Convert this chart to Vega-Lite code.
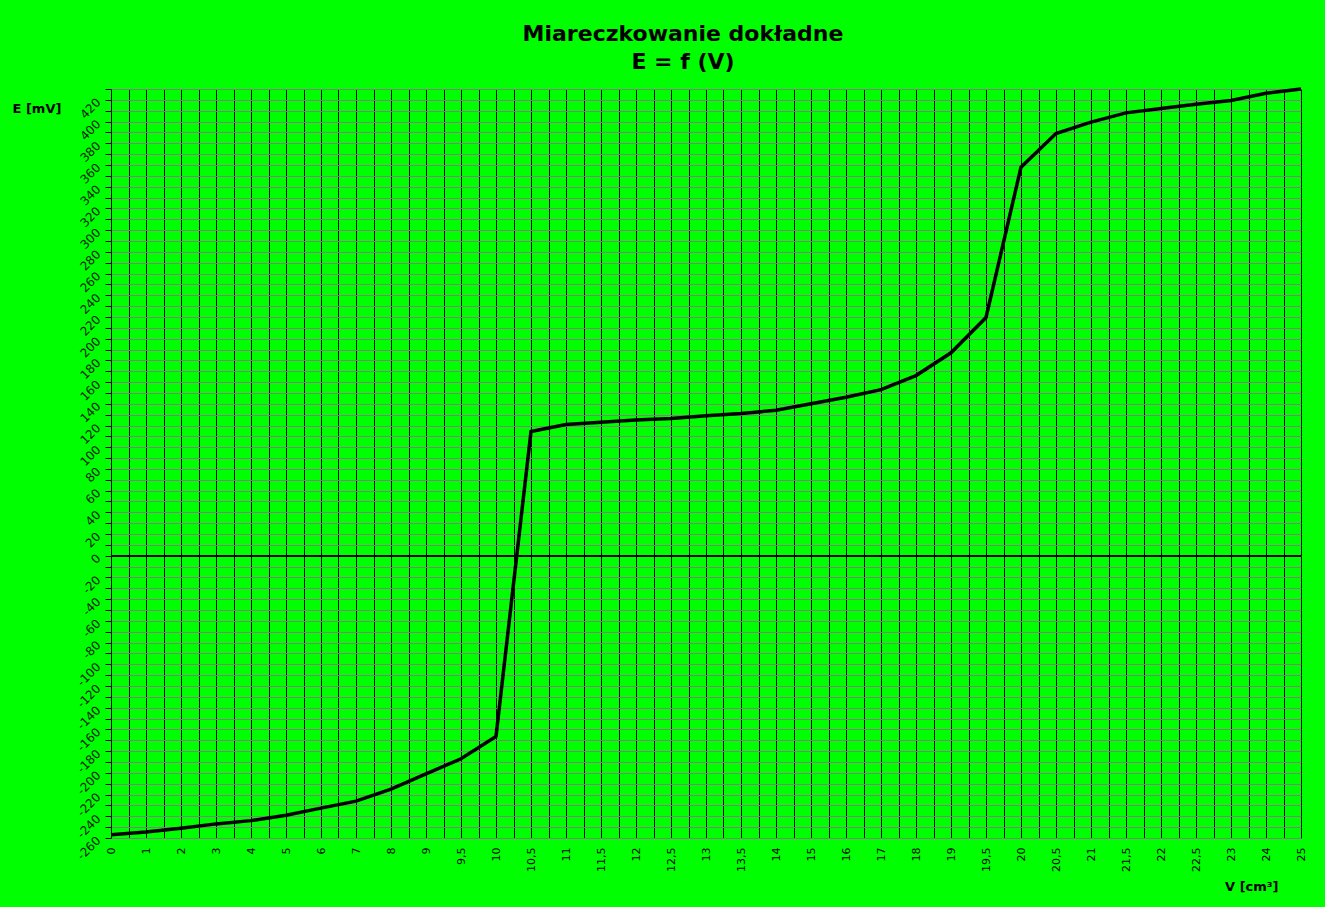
{
  "$schema": "https://vega.github.io/schema/vega-lite/v6.json",
  "autosize": {"type": "none"},
  "width": 1190,
  "height": 749,
  "padding": {"left": 111, "top": 89, "right": 24, "bottom": 69},
  "background": "#00FF00",
  "title": {
    "text": ["Miareczkowanie dokładne", "E = f (V)"],
    "font": "DejaVu Sans",
    "fontSize": 22,
    "fontWeight": "bold",
    "color": "#000000",
    "lineHeight": 28,
    "anchor": "middle",
    "frame": "group",
    "baseline": "bottom",
    "offset": 14,
    "dy": 28,
    "dx": -23
  },
  "config": {
    "view": {"stroke": "#808080", "strokeWidth": 1},
    "axis": {"labelFont": "DejaVu Sans", "titleFont": "DejaVu Sans"},
    "axisY": {
      "grid": true,
      "gridColor": "#808080",
      "gridWidth": 1,
      "gridOpacity": 1,
      "ticks": true,
      "tickSize": 6,
      "tickColor": "#000000",
      "tickWidth": 1,
      "domain": false,
      "labelAngle": -45,
      "labelAlign": "right",
      "labelBaseline": "middle",
      "labelPadding": 7,
      "labelFontSize": 12,
      "labelColor": "#0a1a0a",
      "labelOverlap": false,
      "labelSeparation": 0,
      "titleFontSize": 13,
      "titleFontWeight": "bold",
      "titleColor": "#000000",
      "titleAngle": 0,
      "titleAlign": "left",
      "titleBaseline": "alphabetic",
      "titleAnchor": null,
      "titleX": -99,
      "titleY": 23
    }
  },
  "data": {
    "values": [
      {"V": "0", "E": -257},
      {"V": "1", "E": -254.5},
      {"V": "2", "E": -251},
      {"V": "3", "E": -247},
      {"V": "4", "E": -244},
      {"V": "5", "E": -239},
      {"V": "6", "E": -232.5},
      {"V": "7", "E": -226},
      {"V": "8", "E": -215},
      {"V": "9", "E": -201},
      {"V": "9,5", "E": -187},
      {"V": "10", "E": -166.5},
      {"V": "10,5", "E": 114.5},
      {"V": "11", "E": 121},
      {"V": "11,5", "E": 123},
      {"V": "12", "E": 125},
      {"V": "12,5", "E": 126.5},
      {"V": "13", "E": 129},
      {"V": "13,5", "E": 131},
      {"V": "14", "E": 134},
      {"V": "15", "E": 140},
      {"V": "16", "E": 146},
      {"V": "17", "E": 153},
      {"V": "18", "E": 166},
      {"V": "19", "E": 187},
      {"V": "19,5", "E": 219.5},
      {"V": "20", "E": 358},
      {"V": "20,5", "E": 389},
      {"V": "21", "E": 399.5},
      {"V": "21,5", "E": 408},
      {"V": "22", "E": 412},
      {"V": "22,5", "E": 416},
      {"V": "23", "E": 419.5},
      {"V": "24", "E": 426},
      {"V": "25", "E": 430}
    ]
  },
  "layer": [
    {
      "mark": {"type": "rule", "strokeOpacity": 0},
      "encoding": {
        "x": {
          "datum": 0,
          "type": "quantitative",
          "scale": {"domain": [0, 34], "nice": false, "zero": false},
          "axis": {
            "orient": "bottom",
            "values": [0.5, 1.5, 2.5, 3.5, 4.5, 5.5, 6.5, 7.5, 8.5, 9.5, 10.5, 11.5, 12.5, 13.5, 14.5, 15.5, 16.5, 17.5, 18.5, 19.5, 20.5, 21.5, 22.5, 23.5, 24.5, 25.5, 26.5, 27.5, 28.5, 29.5, 30.5, 31.5, 32.5, 33.5],
            "grid": true,
            "gridColor": "#000000",
            "gridWidth": 1,
            "gridOpacity": 1,
            "labels": false,
            "ticks": false,
            "tickSize": 0,
            "domain": false,
            "title": null
          }
        }
      }
    },
    {
      "mark": {"type": "rule", "color": "#000000", "strokeWidth": 1},
      "encoding": {
        "y": {
          "datum": 0,
          "type": "quantitative",
          "title": "E [mV]",
          "axis": {
            "values": [-260, -250, -240, -230, -220, -210, -200, -190, -180, -170, -160, -150, -140, -130, -120, -110, -100, -90, -80, -70, -60, -50, -40, -30, -20, -10, 0, 10, 20, 30, 40, 50, 60, 70, 80, 90, 100, 110, 120, 130, 140, 150, 160, 170, 180, 190, 200, 210, 220, 230, 240, 250, 260, 270, 280, 290, 300, 310, 320, 330, 340, 350, 360, 370, 380, 390, 400, 410, 420, 430],
            "labelExpr": "datum.value % 20 == 0 ? '' + datum.value : ''",
            "labelOverlap": false
          }
        }
      }
    },
    {
      "mark": {"type": "line", "color": "#000000", "strokeWidth": 3.5},
      "encoding": {
        "x": {
          "field": "V",
          "type": "ordinal",
          "sort": null,
          "scale": {"type": "point", "padding": 0},
          "axis": {
            "orient": "bottom",
            "grid": true,
            "gridColor": "#000000",
            "gridWidth": 1,
            "gridOpacity": 1,
            "ticks": false,
            "tickSize": 0,
            "domain": false,
            "labelAngle": 270,
            "labelAlign": "right",
            "labelBaseline": "middle",
            "labelPadding": 9,
            "labelFontSize": 11,
            "labelColor": "#000000",
            "labelOverlap": false,
            "title": "V [cm³]",
            "titleFontSize": 13,
            "titleFontWeight": "bold",
            "titleColor": "#000000",
            "titleAngle": 0,
            "titleAlign": "right",
            "titleBaseline": "alphabetic",
            "titleAnchor": null,
            "titleX": 1167,
            "titleY": 52
          }
        },
        "y": {
          "field": "E",
          "type": "quantitative",
          "title": "E [mV]",
          "scale": {"domain": [-260, 430], "nice": false, "zero": false},
          "axis": {
            "values": [-260, -250, -240, -230, -220, -210, -200, -190, -180, -170, -160, -150, -140, -130, -120, -110, -100, -90, -80, -70, -60, -50, -40, -30, -20, -10, 0, 10, 20, 30, 40, 50, 60, 70, 80, 90, 100, 110, 120, 130, 140, 150, 160, 170, 180, 190, 200, 210, 220, 230, 240, 250, 260, 270, 280, 290, 300, 310, 320, 330, 340, 350, 360, 370, 380, 390, 400, 410, 420, 430],
            "labelExpr": "datum.value % 20 == 0 ? '' + datum.value : ''",
            "labelOverlap": false
          }
        }
      }
    }
  ],
  "resolve": {"scale": {"x": "independent"}, "axis": {"x": "independent"}}
}
